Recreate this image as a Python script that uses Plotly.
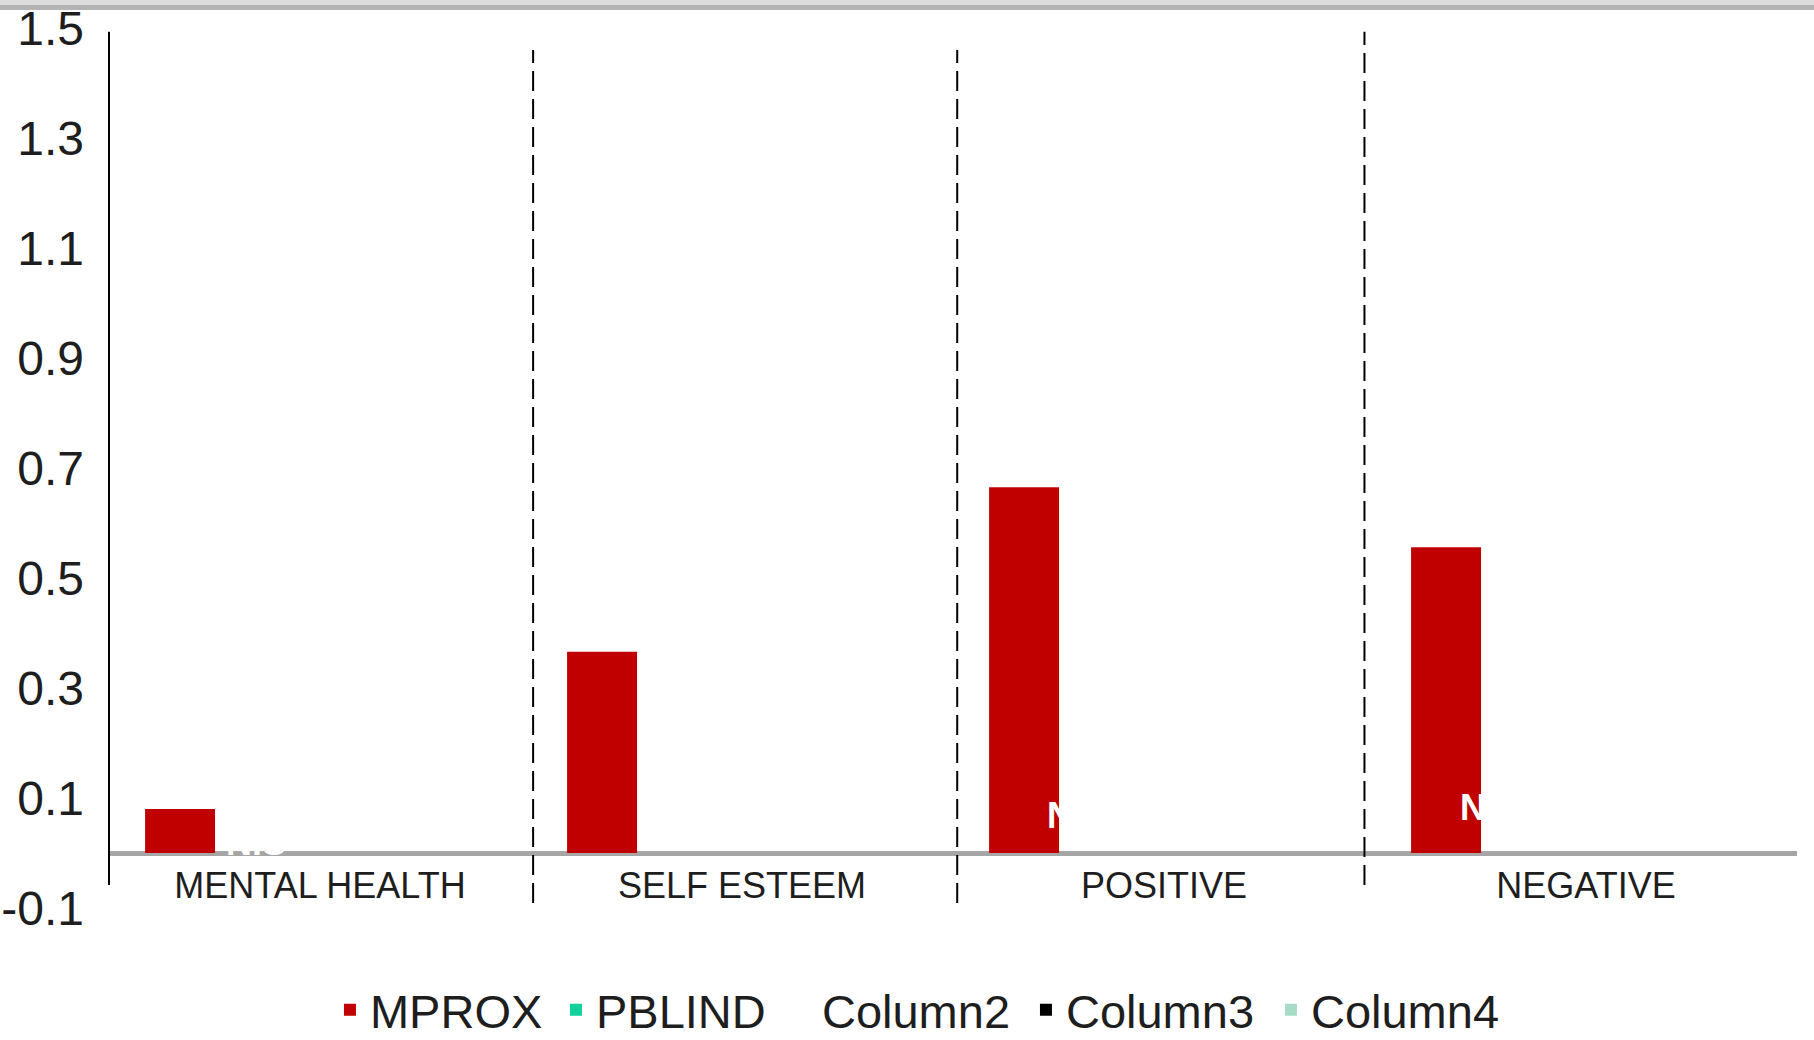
import plotly.graph_objects as go

# Categories and series values
categories = ["MENTAL HEALTH", "SELF ESTEEM", "POSITIVE", "NEGATIVE"]
mprox = [0.08, 0.366, 0.665, 0.556]
pblind = [0, 0, 0, 0]
column2 = [0, 0, 0, 0]
column3 = [0, 0, 0, 0]
column4 = [0, 0, 0, 0]

# Y axis ticks
y_ticks = [-0.1, 0.1, 0.3, 0.5, 0.7, 0.9, 1.1, 1.3, 1.5]
y_tick_labels = ["-0.1", "0.1", "0.3", "0.5", "0.7", "0.9", "1.1", "1.3", "1.5"]

# Non-significance labels for the PBLIND series
ns_text = ["N.S", "N.S", "N.S", "N.S"]
ns_level = [0.02, 0.069, 0.069, 0.082]
ns_shift = [-64, -75, -87, -96]

FONT = "Liberation Sans, Arial, sans-serif"

# name, values, colour, legend entry width (px)
series = [
    ("MPROX", mprox, "#c00000", 181),
    ("PBLIND", pblind, "#12d19a", 181),
    ("Column2", column2, "#ffffff", 199),
    ("Column3", column3, "#000000", 200),
    ("Column4", column4, "#a9dcc6", 200),
]

fig = go.Figure()
for name, vals, color, lw in series:
    fig.add_trace(go.Bar(
        x=categories, y=vals, name=name, legendwidth=lw,
        marker=dict(color=color, line=dict(width=0)),
    ))

# Dashed separators between categories
sep_x = [0.505, 1.51, 2.475]
sep_y0 = [-0.091, -0.091, -0.058]
sep_y1 = [1.46, 1.46, 1.493]
shapes = []
for xs, a, b in zip(sep_x, sep_y0, sep_y1):
    shapes.append(dict(type="line", xref="x", yref="y", x0=xs, x1=xs, y0=a, y1=b,
                       line=dict(color="#000000", width=2, dash="20px,8px"), layer="above"))

# Vertical value axis line
shapes.append(dict(type="line", xref="paper", yref="y", x0=0, x1=0, y0=-0.058, y1=1.493,
                   line=dict(color="#000000", width=2)))

# Grey band along the top edge
shapes.append(dict(type="rect", xref="paper", yref="paper", x0=-0.07, x1=1.02,
                   y0=1 + 23 / 880, y1=1 + 28 / 880, fillcolor="#dcdcdc", line=dict(width=0)))
shapes.append(dict(type="rect", xref="paper", yref="paper", x0=-0.07, x1=1.02,
                   y0=1 + 18 / 880, y1=1 + 23 / 880, fillcolor="#b4b4b4", line=dict(width=0)))

annotations = []
for cat, txt, lvl, sh in zip(categories, ns_text, ns_level, ns_shift):
    annotations.append(dict(x=cat, y=lvl, xref="x", yref="y", text="<b>" + txt + "</b>",
                            showarrow=False, xshift=sh,
                            font=dict(family=FONT, size=36, color="#ffffff"),
                            xanchor="center", yanchor="middle"))

fig.update_layout(
    width=1814, height=1040,
    margin=dict(l=109, r=17, t=28, b=132, autoexpand=False),
    paper_bgcolor="#ffffff", plot_bgcolor="#ffffff",
    barmode="group", bargap=0.171, bargroupgap=0,
    font=dict(family=FONT, color="#1e1e1e"),
    shapes=shapes, annotations=annotations,
    showlegend=True,
    legend=dict(orientation="h", x=0.1309, xanchor="left", y=-0.116, yanchor="middle",
                font=dict(family=FONT, size=47, color="#1e1e1e"),
                bgcolor="rgba(0,0,0,0)", traceorder="normal"),
    xaxis=dict(type="category", anchor="free", position=55 / 880,
               showline=False, showgrid=False, ticks="", zeroline=False,
               tickfont=dict(family=FONT, size=36, color="#1e1e1e"),
               ticklabelstandoff=8),
    yaxis=dict(range=[-0.1, 1.5], tickvals=y_ticks, ticktext=y_tick_labels,
               showline=False, showgrid=False, ticks="",
               zeroline=True, zerolinecolor="#a6a6a6", zerolinewidth=5,
               tickfont=dict(family=FONT, size=48, color="#1e1e1e"),
               ticklabelstandoff=24),
)

fig.write_html("out.html")
